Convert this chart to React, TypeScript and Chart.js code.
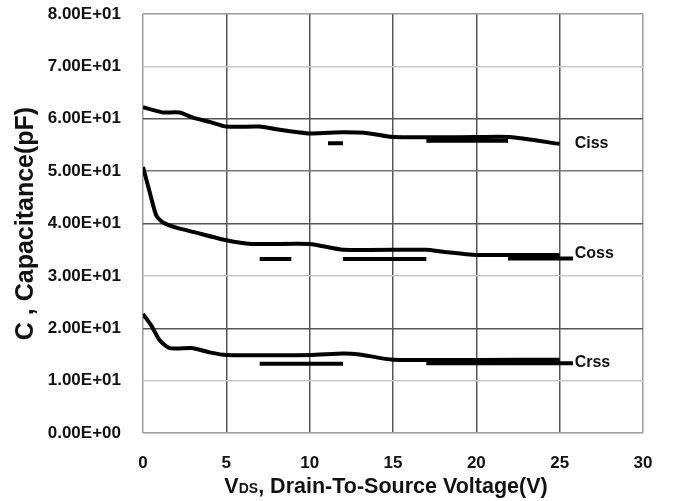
import React, { useEffect, useRef } from "react";
import { Chart, registerables } from "chart.js";

Chart.register(...registerables);

// ---- data ----
const cissX = [0, 0.8, 1.2, 2.2, 3, 4, 5, 7, 8, 10, 12, 13.6, 15, 20, 22, 25];
const cissY = [62.2, 61.5, 61.2, 61.2, 60.2, 59.4, 58.5, 58.5, 58, 57.2, 57.4, 57.2, 56.5, 56.5, 56.5, 55.2];

const cossX = [0, 0.4, 0.8, 1.2, 2, 3, 5, 6.5, 10, 12, 17, 18, 20, 25];
const cossY = [50.8, 46, 41.5, 40.2, 39.2, 38.4, 36.8, 36.1, 36.1, 35, 35, 34.6, 34, 34];

const crssX = [0, 0.5, 1, 1.6, 3, 4, 5, 10, 12, 13, 15, 25];
const crssY = [22.7, 20.5, 17.7, 16.2, 16.2, 15.4, 14.9, 14.9, 15.2, 15, 14, 14];

// short horizontal marks (start x, end x, level)
const segStartX = [11.1, 17, 7, 12, 21.9, 7, 17];
const segEndX = [12.0, 21.9, 8.9, 17, 25.8, 12, 25.8];
const segY = [55.3, 55.8, 33.2, 33.2, 33.3, 13.2, 13.3];

const curveNames = ["Ciss", "Coss", "Crss"];
const curveLabelX = [25.9, 25.9, 25.9];
const curveLabelY = [55.3, 34.2, 13.4];

const yTickLabels = [
  "0.00E+00", "1.00E+01", "2.00E+01", "3.00E+01", "4.00E+01",
  "5.00E+01", "6.00E+01", "7.00E+01", "8.00E+01",
];

const xTitleParts = ["V", "DS", ", Drain-To-Source Voltage(V)"];
const yTitle = "C , Capacitance(pF)";

const FONT = "'Liberation Sans', Arial, sans-serif";

function pts(xs: number[], ys: number[]) {
  return xs.map((x, i) => ({ x, y: ys[i] }));
}

function segPts() {
  const out: { x: number; y: number | null }[] = [];
  segStartX.forEach((sx, i) => {
    out.push({ x: sx, y: segY[i] });
    out.push({ x: segEndX[i], y: segY[i] });
    out.push({ x: segEndX[i], y: null });
  });
  return out;
}

const labelsPlugin = {
  id: "curveLabels",
  afterDraw(chart: any) {
    const { ctx, scales, chartArea } = chart;
    const xs = scales.x;
    const ys = scales.y;
    ctx.save();
    ctx.fillStyle = "#111";
    ctx.font = `bold 16px ${FONT}`;
    ctx.textAlign = "left";
    ctx.textBaseline = "middle";
    curveNames.forEach((n, i) => {
      ctx.fillText(n, xs.getPixelForValue(curveLabelX[i]), ys.getPixelForValue(curveLabelY[i]));
    });
    // x axis title with small "DS"
    const big = `bold 21.5px ${FONT}`;
    const small = `bold 14px ${FONT}`;
    const fonts = [big, small, big];
    let total = 0;
    const widths = xTitleParts.map((p, i) => {
      ctx.font = fonts[i];
      const w = ctx.measureText(p).width;
      total += w;
      return w;
    });
    let x = (chartArea.left + chartArea.right) / 2 - 7 - total / 2;
    const y = chartArea.bottom + 60;
    ctx.textBaseline = "alphabetic";
    xTitleParts.forEach((p, i) => {
      ctx.font = fonts[i];
      ctx.fillText(p, x, y);
      x += widths[i];
    });
    ctx.restore();
  },
};

export default function App() {
  const ref = useRef<HTMLCanvasElement | null>(null);

  useEffect(() => {
    if (!ref.current) return;
    const lineStyle = {
      showLine: true,
      borderColor: "#000",
      backgroundColor: "#000",
      borderWidth: 4,
      pointRadius: 0,
      pointHoverRadius: 0,
      tension: 0.2,
      fill: false,
    };
    const chart = new Chart(ref.current, {
      type: "scatter",
      data: {
        datasets: [
          { label: "Ciss", data: pts(cissX, cissY), ...lineStyle },
          { label: "Coss", data: pts(cossX, cossY), ...lineStyle },
          { label: "Crss", data: pts(crssX, crssY), ...lineStyle },
          {
            label: "marks",
            data: segPts() as any,
            ...lineStyle,
            tension: 0,
            borderWidth: 4,
            spanGaps: false,
            borderCapStyle: "butt",
          },
        ],
      },
      options: {
        responsive: false,
        animation: false,
        events: [],
        layout: { padding: { left: 0, right: 30, top: 14, bottom: 0 } },
        plugins: { legend: { display: false }, tooltip: { enabled: false } },
        scales: {
          x: {
            type: "linear",
            min: 0,
            max: 30,
            border: { display: false },
            grid: {
              drawTicks: false,
              lineWidth: 1.5,
              color: (c: any) => (c.tick && (c.tick.value === 0 || c.tick.value === 30) ? "#9a9a9a" : "#555"),
            },
            ticks: {
              stepSize: 5,
              padding: 20,
              color: "#111",
              font: { family: FONT, size: 17, weight: "bold" },
            },
            afterFit: (s: any) => {
              s.height = 68;
            },
          },
          y: {
            type: "linear",
            min: 0,
            max: 80,
            border: { display: false },
            grid: {
              drawTicks: true,
              tickLength: 22,
              tickColor: "rgba(0,0,0,0)",
              lineWidth: 1.5,
              color: (c: any) => {
                const v = c.tick ? c.tick.value : 0;
                if (v === 0 || v === 80) return "#9a9a9a";
                if (v === 20 || v === 40 || v === 60) return "#555";
                if (v === 50) return "#777";
                return "#c8c8c8";
              },
            },
            ticks: {
              stepSize: 10,
              padding: 0,
              color: "#111",
              font: { family: FONT, size: 17, weight: "bold" },
              callback: (_v: any, i: number) => yTickLabels[i],
            },
            title: {
              display: true,
              text: yTitle,
              color: "#111",
              font: { family: FONT, size: 25, weight: "bold" },
              padding: { top: 11, bottom: 0 },
            },
            afterFit: (s: any) => {
              s.width = 143;
            },
          },
        },
      },
      plugins: [labelsPlugin],
    });
    return () => chart.destroy();
  }, []);

  return (
    <div style={{ position: "absolute", left: 0, top: 0, width: 673, height: 501, background: "#fff" }}>
      <canvas ref={ref} width={673} height={501} style={{ display: "block" }} />
    </div>
  );
}
